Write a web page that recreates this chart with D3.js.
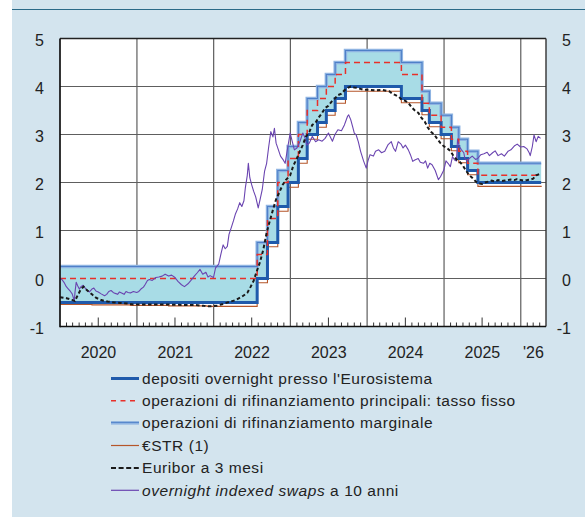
<!DOCTYPE html>
<html><head><meta charset="utf-8">
<script src="https://cdn.jsdelivr.net/npm/d3@7"></script>
<style>
html,body{margin:0;padding:0;background:#fff;}
svg{display:block;font-family:"Liberation Sans",Arial,Helvetica,sans-serif;}
</style></head>
<body>
<svg id="chart" width="585" height="517"></svg>
<script>
// ---- Data ----
// Policy rate change dates (step after) and rates
const policyDates = ["2020-01-01","2022-07-27","2022-09-14","2022-11-02","2022-12-21","2023-02-08","2023-03-22","2023-05-10","2023-06-21","2023-08-02","2023-09-20","2024-06-12","2024-09-18","2024-10-23","2024-12-18","2025-02-05","2025-03-12","2025-04-23","2025-06-11","2026-04-08"];
const dfrRates = [-0.50,0.00,0.75,1.50,2.00,2.50,3.00,3.25,3.50,3.75,4.00,3.75,3.50,3.25,3.00,2.75,2.50,2.25,2.00,2.00];
const mroRates = [0.00,0.50,1.25,2.00,2.50,3.00,3.50,3.75,4.00,4.25,4.50,4.25,3.65,3.40,3.15,2.90,2.65,2.40,2.15,2.15];
const mlfRates = [0.25,0.75,1.50,2.25,2.75,3.25,3.75,4.00,4.25,4.50,4.75,4.50,3.90,3.65,3.40,3.15,2.90,2.65,2.40,2.40];

const estrDates = ["2020-01-01","2020-06-01","2020-12-01","2021-06-01","2021-12-01","2022-07-27","2022-09-14","2022-11-02","2022-12-21","2023-02-08","2023-03-22","2023-05-10","2023-06-21","2023-08-02","2023-09-20","2024-06-12","2024-09-18","2024-10-23","2024-12-18","2025-02-05","2025-03-12","2025-04-23","2025-06-11","2026-04-08"];
const estrRates = [-0.54,-0.55,-0.56,-0.57,-0.58,-0.09,0.66,1.40,1.90,2.40,2.90,3.15,3.40,3.65,3.90,3.66,3.41,3.16,2.91,2.66,2.41,2.16,1.92,1.93];

const euriborDates = ["2020-01-01","2020-02-01","2020-03-01","2020-03-12","2020-03-25","2020-04-10","2020-04-22","2020-05-10","2020-06-01","2020-06-20","2020-07-15","2020-08-15","2020-09-15","2020-10-15","2020-11-15","2020-12-15","2021-02-01","2021-05-01","2021-08-01","2021-10-01","2021-11-15","2021-12-15","2022-01-15","2022-02-15","2022-03-15","2022-04-15","2022-05-15","2022-06-10","2022-06-25","2022-07-10","2022-07-25","2022-08-10","2022-08-25","2022-09-10","2022-09-25","2022-10-10","2022-10-25","2022-11-10","2022-11-25","2022-12-10","2022-12-31","2023-01-15","2023-02-01","2023-02-15","2023-03-01","2023-03-15","2023-04-01","2023-04-15","2023-05-01","2023-05-15","2023-06-01","2023-06-15","2023-07-01","2023-07-15","2023-08-01","2023-08-15","2023-09-01","2023-09-15","2023-10-01","2023-10-15","2023-11-01","2023-11-15","2023-12-01","2023-12-15","2024-01-15","2024-02-15","2024-03-15","2024-04-15","2024-05-01","2024-05-15","2024-06-01","2024-06-15","2024-07-01","2024-07-15","2024-08-01","2024-08-15","2024-09-01","2024-09-15","2024-10-01","2024-10-15","2024-11-01","2024-11-15","2024-12-01","2024-12-15","2025-01-01","2025-01-15","2025-02-01","2025-02-15","2025-03-01","2025-03-15","2025-04-01","2025-04-15","2025-05-01","2025-05-15","2025-06-01","2025-06-15","2025-07-01","2025-07-15","2025-08-01","2025-08-15","2025-09-01","2025-09-15","2025-10-01","2025-10-15","2025-11-01","2025-11-15","2025-12-01","2025-12-15","2026-01-01","2026-01-15","2026-02-01","2026-02-15","2026-03-01","2026-03-15","2026-04-05"];
const euriborRates = [-0.39,-0.41,-0.45,-0.47,-0.35,-0.22,-0.17,-0.25,-0.33,-0.40,-0.45,-0.48,-0.50,-0.51,-0.52,-0.54,-0.54,-0.54,-0.55,-0.55,-0.57,-0.58,-0.57,-0.53,-0.49,-0.45,-0.38,-0.30,-0.18,-0.05,0.15,0.35,0.60,0.95,1.20,1.43,1.65,1.80,1.95,2.05,2.15,2.35,2.50,2.65,2.78,2.95,3.05,3.20,3.25,3.35,3.45,3.55,3.60,3.68,3.75,3.82,3.85,3.92,3.97,4.00,3.98,3.97,3.95,3.93,3.93,3.92,3.93,3.90,3.85,3.82,3.78,3.72,3.70,3.66,3.56,3.50,3.45,3.35,3.27,3.15,3.05,3.00,2.90,2.82,2.75,2.72,2.65,2.55,2.48,2.44,2.35,2.25,2.15,2.10,2.02,1.98,1.97,2.00,2.02,2.04,2.02,2.05,2.03,2.04,2.05,2.06,2.05,2.07,2.05,2.04,2.05,2.06,2.08,2.15,2.18];

const oisDates = ["2020-01-01","2020-01-10","2020-01-20","2020-01-31","2020-02-10","2020-02-20","2020-02-28","2020-03-06","2020-03-09","2020-03-12","2020-03-18","2020-03-25","2020-04-02","2020-04-10","2020-04-20","2020-04-30","2020-05-10","2020-05-20","2020-06-01","2020-06-10","2020-06-20","2020-07-01","2020-07-15","2020-07-31","2020-08-10","2020-08-20","2020-08-31","2020-09-10","2020-09-20","2020-10-01","2020-10-10","2020-10-20","2020-11-01","2020-11-10","2020-11-20","2020-12-01","2020-12-15","2020-12-31",
"2021-01-10","2021-01-20","2021-02-01","2021-02-10","2021-02-20","2021-03-01","2021-03-15","2021-04-01","2021-04-15","2021-05-01","2021-05-15","2021-06-01","2021-06-15","2021-07-01","2021-07-15","2021-08-01","2021-08-15","2021-09-01","2021-09-15","2021-10-01","2021-10-15","2021-10-28","2021-11-10","2021-11-25","2021-12-05","2021-12-15","2021-12-31",
"2022-01-10","2022-01-25","2022-02-05","2022-02-15","2022-02-25","2022-03-07","2022-03-15","2022-03-25","2022-04-05","2022-04-15","2022-04-25","2022-05-05","2022-05-15","2022-05-25","2022-06-01","2022-06-10","2022-06-15","2022-06-22","2022-07-01","2022-07-10","2022-07-20","2022-08-01","2022-08-10","2022-08-20","2022-08-31","2022-09-10","2022-09-20","2022-09-30","2022-10-10","2022-10-17","2022-10-25","2022-11-05","2022-11-15","2022-11-28","2022-12-07","2022-12-20","2022-12-31",
"2023-01-10","2023-01-20","2023-02-01","2023-02-15","2023-03-01","2023-03-10","2023-03-20","2023-04-01","2023-04-15","2023-05-01","2023-05-15","2023-06-01","2023-06-15","2023-07-01","2023-07-10","2023-07-20","2023-08-01","2023-08-15","2023-09-01","2023-09-15","2023-09-30","2023-10-05","2023-10-15","2023-10-25","2023-11-01","2023-11-10","2023-11-20","2023-12-01","2023-12-15","2023-12-28",
"2024-01-05","2024-01-15","2024-01-31","2024-02-10","2024-02-25","2024-03-10","2024-03-25","2024-04-10","2024-04-25","2024-05-05","2024-05-15","2024-05-28","2024-06-10","2024-06-20","2024-07-01","2024-07-15","2024-07-25","2024-08-05","2024-08-15","2024-08-31","2024-09-10","2024-09-25","2024-10-05","2024-10-15","2024-10-25","2024-11-05","2024-11-20","2024-12-05","2024-12-15","2024-12-31",
"2025-01-10","2025-01-20","2025-01-31","2025-02-10","2025-02-20","2025-03-01","2025-03-06","2025-03-15","2025-03-25","2025-04-05","2025-04-10","2025-04-20","2025-05-01","2025-05-15","2025-05-31","2025-06-10","2025-06-25","2025-07-10","2025-07-25","2025-08-05","2025-08-20","2025-09-01","2025-09-15","2025-10-01","2025-10-15","2025-11-01","2025-11-15","2025-12-01","2025-12-15","2025-12-31",
"2026-01-15","2026-01-31","2026-02-10","2026-02-15","2026-02-25","2026-03-05","2026-03-15","2026-03-25","2026-04-05"];
const oisRates = [0.00,-0.02,-0.08,-0.17,-0.22,-0.27,-0.32,-0.42,-0.48,-0.30,-0.08,-0.15,-0.22,-0.17,-0.14,-0.20,-0.25,-0.28,-0.22,-0.20,-0.26,-0.28,-0.32,-0.36,-0.33,-0.27,-0.25,-0.29,-0.31,-0.33,-0.28,-0.30,-0.33,-0.27,-0.29,-0.30,-0.27,-0.29,
-0.27,-0.22,-0.18,-0.12,-0.04,-0.02,-0.04,0.02,0.03,0.05,0.09,0.05,0.07,0.02,-0.06,-0.13,-0.17,-0.11,-0.04,0.05,0.12,0.19,0.09,0.13,0.03,0.06,0.02,
0.22,0.30,0.52,0.70,0.62,0.67,0.92,1.05,1.20,1.35,1.45,1.58,1.50,1.62,1.90,2.15,2.40,2.10,1.95,1.82,1.70,1.47,1.65,1.85,2.23,2.40,2.75,3.06,2.95,3.13,2.82,2.68,2.55,2.47,2.40,2.75,3.03,
2.85,2.68,2.72,2.85,3.03,2.95,2.78,2.82,2.96,2.85,2.89,2.86,2.92,3.03,2.95,2.86,3.00,3.10,3.08,3.20,3.38,3.41,3.31,3.15,3.03,2.99,2.85,2.65,2.45,2.30,
2.45,2.58,2.55,2.65,2.68,2.62,2.65,2.79,2.85,2.72,2.65,2.85,2.80,2.72,2.78,2.68,2.58,2.44,2.47,2.50,2.42,2.40,2.45,2.30,2.40,2.37,2.25,2.06,2.12,2.26,
2.45,2.40,2.33,2.54,2.47,2.45,2.89,2.75,2.68,2.62,2.50,2.45,2.50,2.55,2.48,2.50,2.58,2.60,2.63,2.56,2.62,2.66,2.56,2.60,2.55,2.65,2.68,2.76,2.80,2.74,
2.75,2.70,2.62,2.56,2.75,2.99,2.85,2.96,2.92];

const yTicks = [-1,0,1,2,3,4,5];
const yearLabels = ["2020","2021","2022","2023","2024","2025","'26"];
const legendLabels = ["depositi overnight presso l'Eurosistema","operazioni di rifinanziamento principali: tasso fisso","operazioni di rifinanziamento marginale","€STR (1)","Euribor a 3 mesi","overnight indexed swaps"];

// ---- Setup ----
const parse = d3.timeParse("%Y-%m-%d");
const svg = d3.select("#chart");
const W = 585, H = 517;
const M = {left:60, right:546, top:38.5, bottom:326.5};
const x = d3.scaleTime().domain([parse("2020-01-01"), parse("2026-05-01")]).range([M.left, M.right]);
const y = d3.scaleLinear().domain([-1,5]).range([M.bottom, M.top]);

const C = {bg:"#d3e4ee", band:"#a8dce6", dfr:"#1f5aab", mro:"#e8302a", mlfOuter:"#8fb4e2", mlfInner:"#4f80c8", estr:"#b5562a", eur:"#1a1a1a", ois:"#6a44b0", grid:"#5e5e5e", text:"#222"};

// background panel
svg.append("rect").attr("x",12).attr("y",0).attr("width",W-12).attr("height",H).attr("fill",C.bg);
svg.append("line").attr("x1",12).attr("x2",W).attr("y1",9.5).attr("y2",9.5).attr("stroke","#2a6a88").attr("stroke-width",1.2);
// plot area
svg.append("rect").attr("x",M.left).attr("y",M.top).attr("width",M.right-M.left).attr("height",M.bottom-M.top).attr("fill","#fff");

// grid
const years = d3.range(2021,2027).map(yr => new Date(yr,0,1));
svg.append("g").selectAll("line").data(years).join("line")
  .attr("x1",d=>x(d)).attr("x2",d=>x(d)).attr("y1",M.top).attr("y2",M.bottom)
  .attr("stroke",C.grid).attr("stroke-width",1.2);
svg.append("g").selectAll("line").data(yTicks.filter(v=>v>-1&&v<5)).join("line")
  .attr("x1",M.left).attr("x2",M.right).attr("y1",d=>y(d)).attr("y2",d=>y(d))
  .attr("stroke",C.grid).attr("stroke-width",1.2);

// month ticks
const months = d3.timeMonth.range(parse("2020-02-01"), parse("2026-05-01")).filter(d=>d.getMonth()!==0);
svg.append("g").selectAll("line").data(months).join("line")
  .attr("x1",d=>x(d)).attr("x2",d=>x(d)).attr("y1",M.bottom)
  .attr("y2",d=>M.bottom-(d.getMonth()===6?9:4))
  .attr("stroke","#333").attr("stroke-width",1);

// series objects
const pol = policyDates.map((d,i)=>({date:parse(d), dfr:dfrRates[i], mro:mroRates[i], mlf:mlfRates[i]}));
const estr = estrDates.map((d,i)=>({date:parse(d), v:estrRates[i]}));
const eur = euriborDates.map((d,i)=>({date:parse(d), v:euriborRates[i]}));
const ois = oisDates.map((d,i)=>({date:parse(d), v:oisRates[i]}));

const area = d3.area().curve(d3.curveStepAfter).x(d=>x(d.date)).y0(d=>y(d.dfr)).y1(d=>y(d.mlf));
svg.append("path").datum(pol).attr("d",area).attr("fill",C.band);

const stepLine = key => d3.line().curve(d3.curveStepAfter).x(d=>x(d.date)).y(d=>y(d[key]));
svg.append("path").datum(pol).attr("d",stepLine("mlf")).attr("fill","none").attr("stroke",C.mlfOuter).attr("stroke-width",3.4);
svg.append("path").datum(pol).attr("d",stepLine("mlf")).attr("fill","none").attr("stroke",C.mlfInner).attr("stroke-width",1.1);
svg.append("path").datum(estr).attr("d",stepLine("v")).attr("fill","none").attr("stroke",C.estr).attr("stroke-width",1.1);
svg.append("path").datum(pol).attr("d",stepLine("dfr")).attr("fill","none").attr("stroke",C.dfr).attr("stroke-width",3);
svg.append("path").datum(pol).attr("d",stepLine("mro")).attr("fill","none").attr("stroke",C.mro).attr("stroke-width",1.5).attr("stroke-dasharray","6,4");

const line = d3.line().x(d=>x(d.date)).y(d=>y(d.v));
svg.append("path").datum(ois).attr("d",line).attr("fill","none").attr("stroke",C.ois).attr("stroke-width",1.1).attr("stroke-linejoin","round");
svg.append("path").datum(eur).attr("d",line).attr("fill","none").attr("stroke",C.eur).attr("stroke-width",2).attr("stroke-dasharray","3.5,2.5");

// frame
svg.append("line").attr("x1",M.left).attr("x2",M.right).attr("y1",M.top).attr("y2",M.top).attr("stroke","#222").attr("stroke-width",1.3);
svg.append("line").attr("x1",M.right).attr("x2",M.right).attr("y1",M.top).attr("y2",M.bottom).attr("stroke","#333").attr("stroke-width",1.4);
svg.append("line").attr("x1",M.left).attr("x2",M.left).attr("y1",M.top).attr("y2",M.bottom+0.8).attr("stroke","#111").attr("stroke-width",1.7);
svg.append("line").attr("x1",M.left).attr("x2",M.right).attr("y1",M.bottom).attr("y2",M.bottom).attr("stroke","#111").attr("stroke-width",1.7);

// y labels
const yl = svg.append("g").attr("font-size",16).attr("fill",C.text);
yl.selectAll("text.l").data(yTicks).join("text").attr("class","l")
  .attr("x",44).attr("y",d=>y(d)+7.5).attr("text-anchor","end").text(d=>d);
yl.selectAll("text.r").data(yTicks).join("text").attr("class","r")
  .attr("x",571).attr("y",d=>y(d)+7.5).attr("text-anchor","end").text(d=>d);

// year labels
const dEnd = x.domain()[1];
svg.append("g").attr("font-size",16).attr("fill",C.text).selectAll("text").data(yearLabels).join("text")
  .attr("x",(d,i)=>{const s=new Date(2020+i,0,1); const e=new Date(2021+i,0,1); return (x(s)+x(e>dEnd?dEnd:e))/2;})
  .attr("y",357.5).attr("text-anchor","middle").text(d=>d);

// legend
const lg = svg.append("g").attr("font-size",15.5).attr("letter-spacing",0.55).attr("fill",C.text);
const ly = [378.5,400.8,423,445.5,468,490.3];
const lx1 = 111, lx2 = 139;
lg.append("line").attr("x1",lx1).attr("x2",lx2).attr("y1",ly[0]).attr("y2",ly[0]).attr("stroke",C.dfr).attr("stroke-width",3);
lg.append("line").attr("x1",lx1).attr("x2",lx2).attr("y1",ly[1]).attr("y2",ly[1]).attr("stroke",C.mro).attr("stroke-width",1.5).attr("stroke-dasharray","5,4.5");
lg.append("line").attr("x1",lx1).attr("x2",lx2).attr("y1",ly[2]).attr("y2",ly[2]).attr("stroke",C.mlfOuter).attr("stroke-width",3.2);
lg.append("line").attr("x1",lx1).attr("x2",lx2).attr("y1",ly[2]-0.7).attr("y2",ly[2]-0.7).attr("stroke",C.mlfInner).attr("stroke-width",1.1);
lg.append("line").attr("x1",lx1).attr("x2",lx2).attr("y1",ly[3]).attr("y2",ly[3]).attr("stroke",C.estr).attr("stroke-width",1.2);
lg.append("line").attr("x1",lx1).attr("x2",lx2).attr("y1",ly[4]).attr("y2",ly[4]).attr("stroke",C.eur).attr("stroke-width",2).attr("stroke-dasharray","5,2.6");
lg.append("line").attr("x1",lx1).attr("x2",lx2).attr("y1",ly[5]).attr("y2",ly[5]).attr("stroke",C.ois).attr("stroke-width",1.2);
legendLabels.forEach((t,i)=>{
  const tx = lg.append("text").attr("x",142).attr("y",ly[i]+5.4);
  if(i===5){
    tx.append("tspan").attr("font-style","italic").text(t);
    tx.append("tspan").text(" a 10 anni");
  } else tx.text(t);
});
</script>
</body></html>
